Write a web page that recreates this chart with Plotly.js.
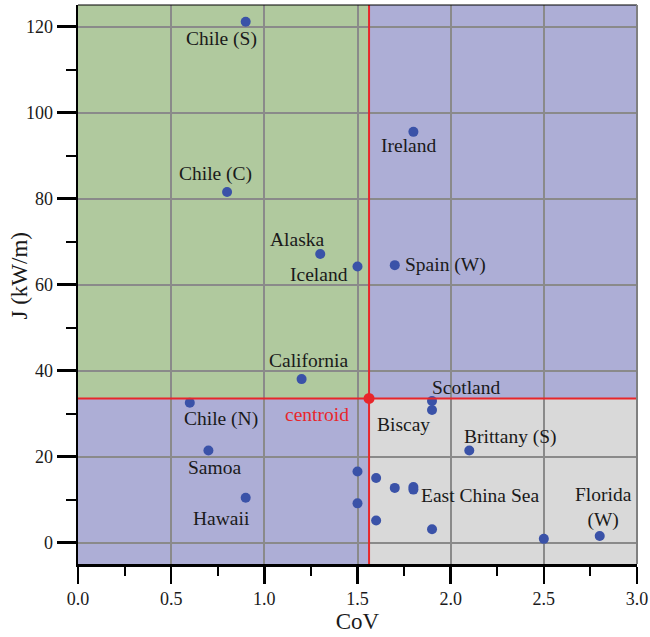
<!DOCTYPE html>
<html>
<head>
<meta charset="utf-8">
<script src="https://cdn.plot.ly/plotly-3.0.1.min.js"></script>
<style>html,body{margin:0;padding:0;background:#fff;}#chart{width:650px;height:637px;}</style>
</head>
<body>
<div id="chart"></div>
<script>
// ---- data ----
const siteNames = ['Chile (S)','Chile (C)','Alaska','Iceland','Spain (W)','Ireland','California','Chile (N)','Samoa','Hawaii','Scotland','Biscay','Brittany (S)','','','','East China Sea','','','','','','Florida (W)'];
const covValues = [0.9, 0.8, 1.3, 1.5, 1.7, 1.8, 1.2, 0.6, 0.7, 0.9, 1.9, 1.9, 2.1, 1.5, 1.6, 1.7, 1.8, 1.8, 1.5, 1.6, 1.9, 2.5, 2.8];
const jValues   = [121.1, 81.5, 67.1, 64.2, 64.5, 95.5, 38.0, 32.5, 21.4, 10.4, 32.9, 30.8, 21.4, 16.5, 15.0, 12.7, 12.9, 12.3, 9.1, 5.1, 3.1, 0.85, 1.5];
const centroidCoV = 1.562;
const centroidJ = 33.5;
const xTickVals = [0, 0.5, 1.0, 1.5, 2.0, 2.5, 3.0];
const xTickText = ['0.0','0.5','1.0','1.5','2.0','2.5','3.0'];
const yTickVals = [0, 20, 40, 60, 80, 100, 120];
const yTickText = ['0','20','40','60','80','100','120'];
const xTitle = 'CoV';
const yTitle = 'J (kW/m)';

// ---- label placement (styling only, pixel offsets) ----
const labelStyle = {
  'Chile (S)':     {dx:-24, dy:-17},
  'Chile (C)':     {dx:-12, dy:18},
  'Alaska':        {dx:-23, dy:14},
  'Iceland':       {dx:-8, dy:-8, anchor:'right'},
  'Spain (W)':     {dx:8, dy:0, anchor:'left'},
  'Ireland':       {dx:-5, dy:-14},
  'California':    {dx:7, dy:19},
  'Chile (N)':     {dx:31, dy:-16},
  'Samoa':         {dx:6, dy:-17},
  'Hawaii':        {dx:-24, dy:-21},
  'Scotland':      {dx:34, dy:14},
  'Biscay':        {dx:-29, dy:-14},
  'Brittany (S)':  {dx:41, dy:13},
  'East China Sea':{dx:67, dy:-8},
  'Florida (W)':   {dx:4, dy:29, text:'Florida<br>(W)'}
};

const FONT = 'Liberation Serif, Times New Roman, serif';
const LABEL_SIZE = 19.5;
const annotations = [];
siteNames.forEach((n, i) => {
  if (!n) return;
  const s = labelStyle[n] || {dx:0, dy:14};
  annotations.push({
    x: covValues[i], y: jValues[i], xref:'x', yref:'y',
    text: s.text || n, showarrow:false,
    xanchor: s.anchor || 'center',
    xshift: s.dx, yshift: s.dy,
    font:{family:FONT, size:LABEL_SIZE, color:'#1a1a1a'}
  });
});
annotations.push({
  x: centroidCoV, y: centroidJ, xref:'x', yref:'y', text:'centroid', showarrow:false,
  xshift:-52, yshift:-16, font:{family:FONT, size:LABEL_SIZE, color:'#e8262b'}
});
annotations.push({
  x: 0, y: 0.5, xref:'paper', yref:'paper', text:yTitle, showarrow:false,
  textangle:-90, xanchor:'center', yanchor:'middle', xshift:-59, yshift:9,
  font:{family:FONT, size:23, color:'#1a1a1a'}
});

const shapes = [
  {type:'rect', xref:'x', yref:'y', x0:0, x1:centroidCoV, y0:centroidJ, y1:125, fillcolor:'#b0c99e', line:{width:0}, layer:'below'},
  {type:'rect', xref:'x', yref:'y', x0:centroidCoV, x1:3, y0:centroidJ, y1:125, fillcolor:'#adaed6', line:{width:0}, layer:'below'},
  {type:'rect', xref:'x', yref:'y', x0:0, x1:centroidCoV, y0:-5, y1:centroidJ, fillcolor:'#adaed6', line:{width:0}, layer:'below'},
  {type:'rect', xref:'x', yref:'y', x0:centroidCoV, x1:3, y0:-5, y1:centroidJ, fillcolor:'#d9d9d9', line:{width:0}, layer:'below'},
  {type:'line', xref:'x', yref:'y', x0:centroidCoV, x1:centroidCoV, y0:-5, y1:125, line:{color:'#e8262b', width:2}, layer:'above'},
  {type:'line', xref:'x', yref:'y', x0:0, x1:3, y0:centroidJ, y1:centroidJ, line:{color:'#e8262b', width:2}, layer:'above'},
  {type:'line', xref:'paper', yref:'paper', x0:0, x1:1, y0:1, y1:1, line:{color:'#000', width:1.2}, layer:'above'},
  {type:'line', xref:'paper', yref:'paper', x0:1, x1:1, y0:0, y1:1, line:{color:'#808080', width:2}, layer:'above'}
];

const traces = [
  {x: covValues, y: jValues, type:'scatter', mode:'markers',
   marker:{color:'#3a52a8', size:10}, hoverinfo:'skip', showlegend:false},
  {x: [centroidCoV], y: [centroidJ], type:'scatter', mode:'markers',
   marker:{color:'#e8262b', size:11}, hoverinfo:'skip', showlegend:false}
];

const layout = {
  width:650, height:637,
  margin:{l:78, r:13, t:5, b:73},
  paper_bgcolor:'#ffffff', plot_bgcolor:'#ffffff',
  showlegend:false,
  font:{family:FONT, size:18, color:'#1a1a1a'},
  xaxis:{
    range:[0,3], tickvals:xTickVals, ticktext:xTickText,
    showgrid:true, gridcolor:'#8a8a8a', gridwidth:2, zeroline:false,
    showline:true, linecolor:'#000', linewidth:2.5,
    ticks:'outside', ticklen:17, tickwidth:2.5, tickcolor:'#000',
    minor:{dtick:0.25, tick0:0, ticks:'outside', ticklen:9, tickwidth:2, tickcolor:'#000', showgrid:false},
    tickfont:{family:FONT, size:18, color:'#1a1a1a'},
    title:{text:xTitle, font:{family:FONT, size:23, color:'#1a1a1a'}, standoff:1},
    fixedrange:true
  },
  yaxis:{
    range:[-5,125], tickvals:yTickVals, ticktext:yTickText,
    showgrid:true, gridcolor:'#8a8a8a', gridwidth:2, zeroline:false,
    showline:true, linecolor:'#000', linewidth:2.5,
    ticks:'outside', ticklen:19, tickwidth:2.5, tickcolor:'#000',
    minor:{dtick:10, tick0:0, ticks:'outside', ticklen:10, tickwidth:2, tickcolor:'#000', showgrid:false},
    tickfont:{family:FONT, size:18, color:'#1a1a1a'},
    fixedrange:true
  },
  shapes: shapes,
  annotations: annotations
};

Plotly.newPlot('chart', traces, layout, {displayModeBar:false, staticPlot:true});
</script>
</body>
</html>
